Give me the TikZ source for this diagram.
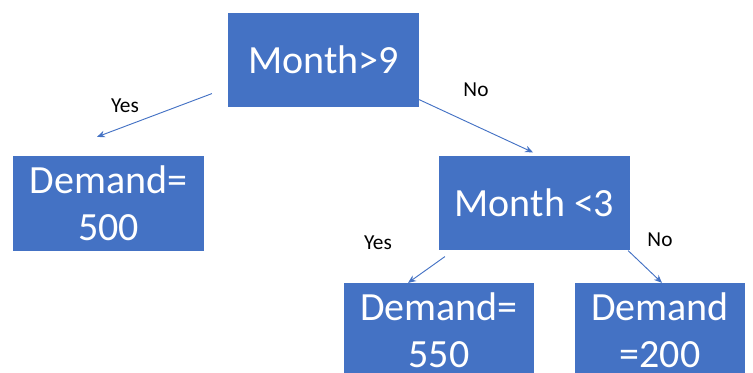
\documentclass[tikz,border=0pt]{standalone}
\usepackage{fontspec}
\setmainfont{Carlito}
\usetikzlibrary{arrows.meta,calc}
\definecolor{boxblue}{RGB}{68,114,196}
\tikzset{
    splitbox/.style={fill=boxblue,draw=none,text=white,align=center,
        minimum width=143pt,minimum height=71pt,inner sep=0pt,
        font=\fontsize{30}{35}\selectfont},
    leafbox/.style={splitbox},
    branch/.style={-{Stealth[length=6pt,width=5pt]},line width=0.7pt,boxblue},
    answer/.style={font=\fontsize{16}{19}\selectfont,text=black,inner sep=0pt}
}

\begin{document}
\begin{tikzpicture}[x=0.75pt,y=-0.75pt]
    \useasboundingbox (0,0) rectangle (753,373);
    \clip (0,0) rectangle (753,373);
    % Decision nodes
    \node[splitbox] (root) at (323.5,60) {Month>9};
    \node[splitbox] (second) at (534.5,203) {Month <3};
    % Leaves
    \node[leafbox] (demandA) at (108.5,203.5) {Demand=\\500};
    \node[leafbox] (demandB) at (439,330.5) {Demand=\\550};
    \node[leafbox,minimum width=127.5pt] (demandC) at (660,330.5) {Demand\\=200};
    % Branches
    \draw[branch] ($(root.south west)+(-16,-14)$) -- ($(demandA.north)+(-11.5,-19)$);
    \draw[branch] ($(root.south east)+(0,-8)$) -- ($(second.north)+(-1.5,-3)$);
    \draw[branch] ($(second.south west)+(6,6)$) -- ($(demandB.north)+(-31,0)$);
    \draw[branch] ($(second.south east)+(-2,0)$) -- ($(demandC.north)+(2,0)$);
    % Branch labels
    \node[answer] (yesA) at (125,106) {Yes};
    \node[answer] (noA) at (476,90) {No};
    \node[answer] (yesB) at (378,243) {Yes};
    \node[answer] (noB) at (660,240) {No};
\end{tikzpicture}
\end{document}
